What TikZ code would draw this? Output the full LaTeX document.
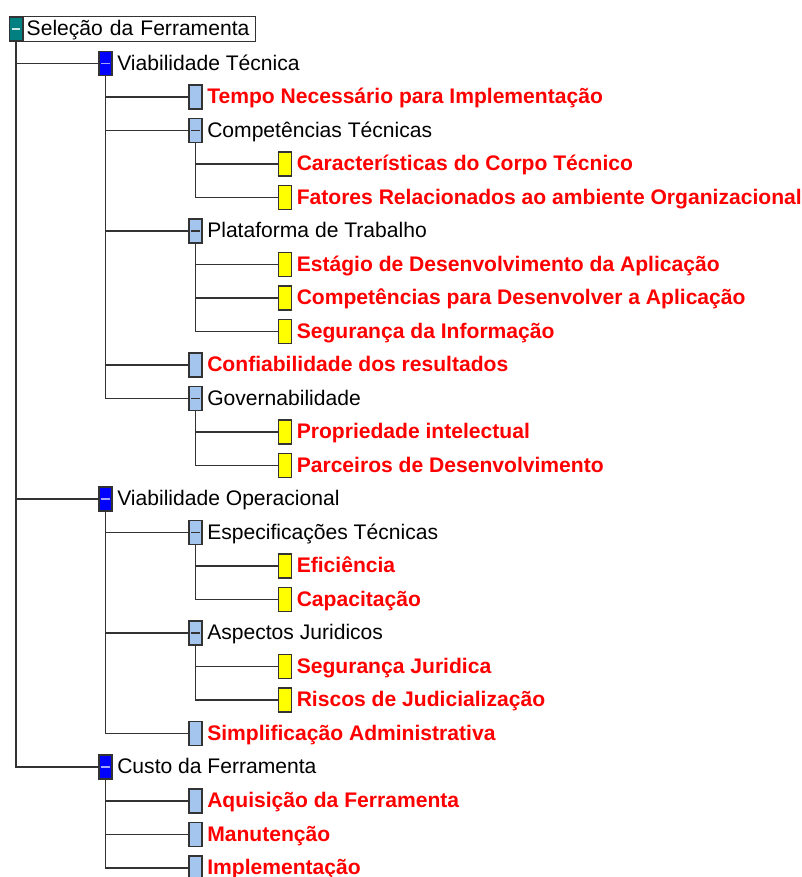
\documentclass[tikz,border=0pt]{standalone}
\usepackage{fontspec}
\setmainfont{Liberation Sans}
\usetikzlibrary{positioning}
\definecolor{rootfill}{RGB}{0,128,128}
\definecolor{grpfill}{RGB}{0,0,255}
\definecolor{itemfill}{RGB}{164,198,238}
\definecolor{leaffill}{RGB}{255,255,0}
\definecolor{linegray}{RGB}{51,51,51}
\tikzset{%
	collapse/.style={
		path picture={\draw[#1, line width=0.6pt]
			([xshift=1.2pt]path picture bounding box.west) --
			([xshift=-1.2pt]path picture bounding box.east);}
	},
	treebox/.style={
		draw=linegray,
		line width=0.6pt,
		inner sep=0pt,
		minimum width=0.26cm,
		minimum height=0.48cm
	},
	rootbox/.style={treebox, fill=rootfill, collapse={rootminus}},
	groupbox/.style={treebox, fill=grpfill, collapse={grpminus}},
	itembox/.style={treebox, fill=itemfill},
	leafbox/.style={treebox, fill=leaffill},
	nodetext/.style={
		inner sep=0pt,
		text height=8.6pt,
		text depth=1pt,
		font=\fontsize{12}{14}\selectfont
	},
	leaftext/.style={nodetext, font=\fontsize{12}{14}\selectfont\bfseries, text=red},
	branch/.style={draw=linegray, line width=0.6pt},
}
\colorlet{rootminus}{white!80!rootfill}
\colorlet{grpminus}{white!65!grpfill}

\begin{document}
\begin{tikzpicture}[x=0.02cm, y=-0.02cm]
	\useasboundingbox (0,0) rectangle (802,877);
	\clip (0,0) rectangle (802,877);

	% root
	\node[rootbox] (b0) at (16,29) {};
	\node[nodetext, draw=linegray, line width=0.6pt, anchor=west, inner xsep=1.8pt,
		minimum height=0.5cm, text width=4.52cm, align=left] (t0) at (b0.east) {\mbox{Seleção da Ferramenta}};

	% Viabilidade Tecnica
	\node[groupbox] (b1) at (105.5,63.5) {};
	\node[nodetext, right=2.5pt of b1] (t1) {Viabilidade Técnica};
	\node[itembox] (b2) at (195.5,97) {};
	\node[leaftext, right=2.5pt of b2] (t2) {Tempo Necessário para Implementação};
	\node[itembox, collapse={linegray}] (b3) at (195.5,130.6) {};
	\node[nodetext, right=2.5pt of b3] (t3) {Competências Técnicas};
	\node[leafbox] (b4) at (285,164) {};
	\node[leaftext, right=2.5pt of b4] (t4) {Características do Corpo Técnico};
	\node[leafbox] (b5) at (285,197.6) {};
	\node[leaftext, right=2.5pt of b5] (t5) {Fatores Relacionados ao ambiente Organizacional};
	\node[itembox, collapse={linegray}] (b6) at (195.5,231) {};
	\node[nodetext, right=2.5pt of b6] (t6) {Plataforma de Trabalho};
	\node[leafbox] (b7) at (285,264.6) {};
	\node[leaftext, right=2.5pt of b7] (t7) {Estágio de Desenvolvimento da Aplicação};
	\node[leafbox] (b8) at (285,298) {};
	\node[leaftext, right=2.5pt of b8] (t8) {Competências para Desenvolver a Aplicação};
	\node[leafbox] (b9) at (285,331.7) {};
	\node[leaftext, right=2.5pt of b9] (t9) {Segurança da Informação};
	\node[itembox] (b10) at (195.5,365) {};
	\node[leaftext, right=2.5pt of b10] (t10) {Confiabilidade dos resultados};
	\node[itembox, collapse={linegray}] (b11) at (195.5,398.7) {};
	\node[nodetext, right=2.5pt of b11] (t11) {Governabilidade};
	\node[leafbox] (b12) at (285,432) {};
	\node[leaftext, right=2.5pt of b12] (t12) {Propriedade intelectual};
	\node[leafbox] (b13) at (285,465.8) {};
	\node[leaftext, right=2.5pt of b13] (t13) {Parceiros de Desenvolvimento};

	% Viabilidade Operacional
	\node[groupbox] (b14) at (105.5,499) {};
	\node[nodetext, right=2.5pt of b14] (t14) {Viabilidade Operacional};
	\node[itembox, collapse={linegray}] (b15) at (195.5,532.8) {};
	\node[nodetext, right=2.5pt of b15] (t15) {Especificações Técnicas};
	\node[leafbox] (b16) at (285,566) {};
	\node[leaftext, right=2.5pt of b16] (t16) {Eficiência};
	\node[leafbox] (b17) at (285,599.8) {};
	\node[leaftext, right=2.5pt of b17] (t17) {Capacitação};
	\node[itembox, collapse={linegray}] (b18) at (195.5,633) {};
	\node[nodetext, right=2.5pt of b18] (t18) {Aspectos Juridicos};
	\node[leafbox] (b19) at (285,666.9) {};
	\node[leaftext, right=2.5pt of b19] (t19) {Segurança Juridica};
	\node[leafbox] (b20) at (285,700) {};
	\node[leaftext, right=2.5pt of b20] (t20) {Riscos de Judicialização};
	\node[itembox] (b21) at (195.5,733.9) {};
	\node[leaftext, right=2.5pt of b21] (t21) {Simplificação Administrativa};

	% Custo da Ferramenta
	\node[groupbox] (b22) at (105.5,767) {};
	\node[nodetext, right=2.5pt of b22] (t22) {Custo da Ferramenta};
	\node[itembox] (b23) at (195.5,801) {};
	\node[leaftext, right=2.5pt of b23] (t23) {Aquisição da Ferramenta};
	\node[itembox] (b24) at (195.5,834.5) {};
	\node[leaftext, right=2.5pt of b24] (t24) {Manutenção};
	\node[itembox] (b25) at (195.5,868) {};
	\node[leaftext, right=2.5pt of b25] (t25) {Implementação};

	% tree lines
	\draw[branch] (b0.south) |- (b1.west);
	\draw[branch] (b0.south) |- (b14.west);
	\draw[branch] (b0.south) |- (b22.west);
	\draw[branch] (b1.south) |- (b2.west);
	\draw[branch] (b1.south) |- (b3.west);
	\draw[branch] (b1.south) |- (b6.west);
	\draw[branch] (b1.south) |- (b10.west);
	\draw[branch] (b1.south) |- (b11.west);
	\draw[branch] (b3.south) |- (b4.west);
	\draw[branch] (b3.south) |- (b5.west);
	\draw[branch] (b6.south) |- (b7.west);
	\draw[branch] (b6.south) |- (b8.west);
	\draw[branch] (b6.south) |- (b9.west);
	\draw[branch] (b11.south) |- (b12.west);
	\draw[branch] (b11.south) |- (b13.west);
	\draw[branch] (b14.south) |- (b15.west);
	\draw[branch] (b14.south) |- (b18.west);
	\draw[branch] (b14.south) |- (b21.west);
	\draw[branch] (b15.south) |- (b16.west);
	\draw[branch] (b15.south) |- (b17.west);
	\draw[branch] (b18.south) |- (b19.west);
	\draw[branch] (b18.south) |- (b20.west);
	\draw[branch] (b22.south) |- (b23.west);
	\draw[branch] (b22.south) |- (b24.west);
	\draw[branch] (b22.south) |- (b25.west);
\end{tikzpicture}
\end{document}
